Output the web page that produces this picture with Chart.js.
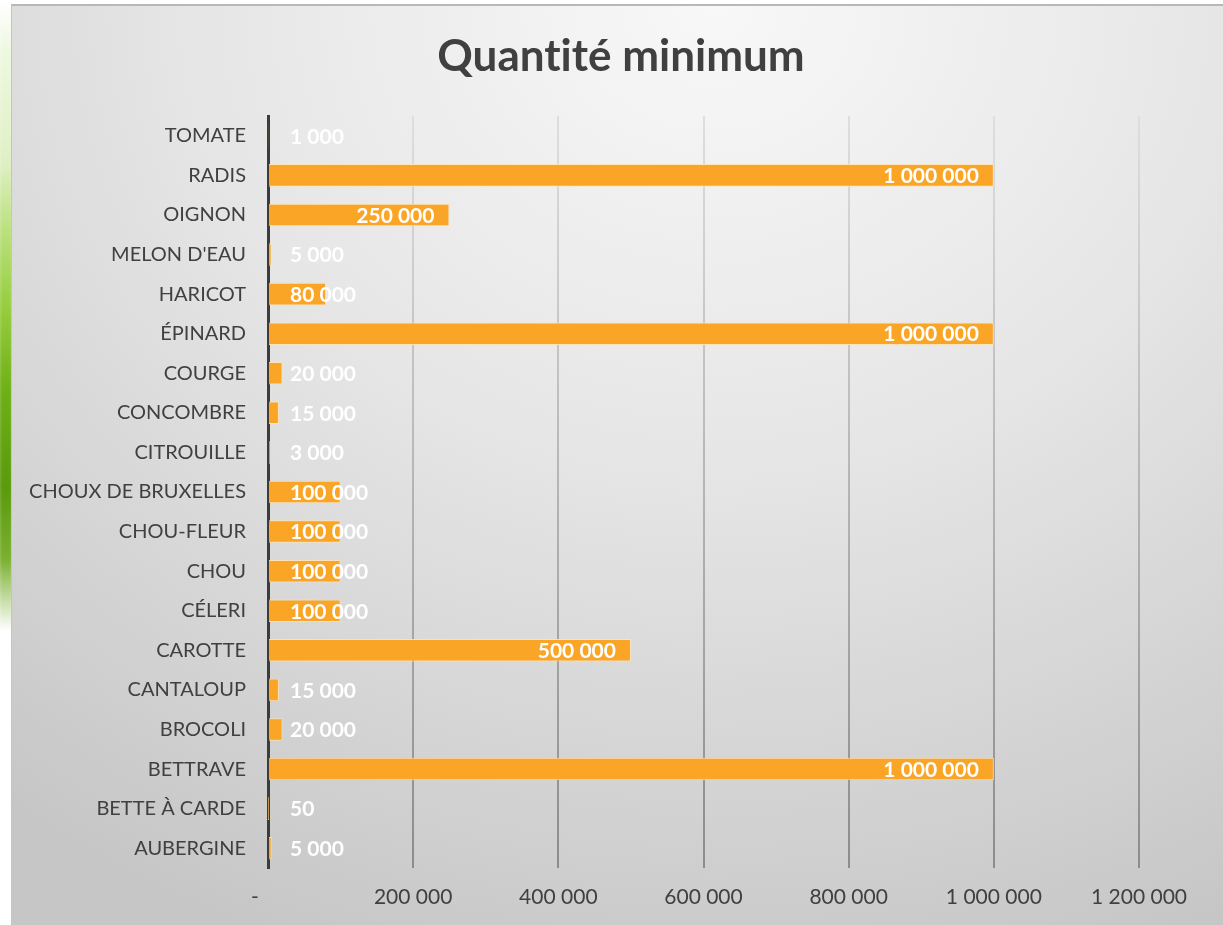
<!DOCTYPE html>
<html>
<head>
<meta charset="utf-8">
<script src="https://cdn.jsdelivr.net/npm/chart.js@4"></script>
<style>
  html, body { margin: 0; padding: 0; width: 1223px; height: 925px; overflow: hidden; background: #fff; }
  #leaf {
    position: absolute; left: -2px; top: 0px; width: 16px; height: 650px;
    background: linear-gradient(to bottom, #ffffff 0%, #eef8e0 8%, #dff0c4 25%, #b9e07a 36%, #94cc3c 48%, #6fb018 60%, #5a9a0c 75%, #7ab030 86%, #ffffff 97%);
    filter: blur(2px);
  }
  #frame {
    position: absolute; left: 11px; top: 4px; width: 1212px; height: 921px; box-sizing: border-box;
    border-top: 2px solid #b8b8b8; border-left: 1px solid #c4c4c4;
    background: radial-gradient(ellipse 95% 110% at 58% 0%, #f8f8f8 0%, #e6e6e6 45%, #cfcfcf 85%, #c6c6c6 100%);
  }
  #wrap { position: absolute; left: 0; top: 0; width: 1223px; height: 925px; }
</style>
</head>
<body>
<div id="leaf"></div>
<div id="frame"></div>
<div id="wrap"><canvas id="myChart"></canvas></div>
<script>
  // categories, top to bottom as in the picture
  const categories = ['TOMATE', 'RADIS', 'OIGNON', "MELON D'EAU", 'HARICOT', 'ÉPINARD', 'COURGE', 'CONCOMBRE',
    'CITROUILLE', 'CHOUX DE BRUXELLES', 'CHOU-FLEUR', 'CHOU', 'CÉLERI', 'CAROTTE', 'CANTALOUP', 'BROCOLI',
    'BETTRAVE', 'BETTE À CARDE', 'AUBERGINE'];
  const quantites = [1000, 1000000, 250000, 5000, 80000, 1000000, 20000, 15000,
    3000, 100000, 100000, 100000, 100000, 500000, 15000, 20000,
    1000000, 50, 5000];
  const xTicks = [0, 200000, 400000, 600000, 800000, 1000000, 1200000];
  const chartTitle = 'Quant\u200Cit\u200Cé minimum'; // ZWNJ keeps Lato from joining "ti"

  const fontName = 'Lato, "Open Sans", sans-serif';
  const textColor = '#404040';

  function formatNum(v) {
    return String(v).replace(/\B(?=(\d{3})+(?!\d))/g, ' ');
  }

  // title centred on the whole frame, not on the plot
  const frameTitle = {
    id: 'frameTitle',
    afterDraw(chart) {
      const ctx = chart.ctx;
      ctx.save();
      ctx.font = 'bold 44px ' + fontName;
      ctx.fillStyle = textColor;
      ctx.textAlign = 'center';
      ctx.textBaseline = 'middle';
      ctx.fillText(chartTitle, 621, 57);
      ctx.restore();
    }
  };

  // white labels: at the inside end when there is room, otherwise just after the base
  const barLabels = {
    id: 'barLabels',
    afterDatasetsDraw(chart) {
      const ctx = chart.ctx;
      const meta = chart.getDatasetMeta(0);
      ctx.save();
      ctx.font = 'bold 21px ' + fontName;
      ctx.fillStyle = '#ffffff';
      ctx.textBaseline = 'middle';
      ctx.textAlign = 'left';
      meta.data.forEach((bar, i) => {
        const txt = formatNum(quantites[i]);
        const w = ctx.measureText(txt).width;
        const base = chart.chartArea.left;
        let x = bar.x - 15 - w;
        if (x < base + 22) x = base + 22;
        ctx.fillText(txt, x, bar.y + 1);
      });
      ctx.restore();
    }
  };

  const ctx = document.getElementById('myChart').getContext('2d');
  const myChart = new Chart(ctx, {
    type: 'bar',
    data: {
      labels: categories,
      datasets: [{
        label: 'Quantité minimum',
        data: quantites,
        backgroundColor: '#fba526',
        borderColor: 'rgba(255, 226, 180, 0.9)',
        borderWidth: 1,
        borderSkipped: 'start',
        barPercentage: 0.57,
        categoryPercentage: 1
      }]
    },
    options: {
      indexAxis: 'y',
      responsive: true,
      maintainAspectRatio: false,
      animation: false,
      layout: { padding: { left: 0, right: 84, top: 116, bottom: 0 } },
      plugins: {
        legend: { display: false },
        tooltip: { enabled: false },
        title: { display: false }
      },
      scales: {
        x: {
          min: 0,
          max: 1200000,
          afterBuildTicks: (scale) => { scale.ticks = xTicks.map(v => ({ value: v })); },
          afterFit: (scale) => { scale.height = 57; },
          border: { display: false },
          grid: {
            drawTicks: false,
            lineWidth: 2,
            color: (c) => {
              const area = c.chart.chartArea;
              if (!area) return '#b0b0b0';
              const g = c.chart.ctx.createLinearGradient(0, area.top, 0, area.bottom);
              g.addColorStop(0, '#dedede');
              g.addColorStop(0.5, '#b4b4b4');
              g.addColorStop(1, '#8c8c8c');
              return g;
            }
          },
          ticks: {
            color: textColor,
            padding: 17,
            font: { family: fontName, size: 21 },
            callback: (v) => v === 0 ? '-\u2003\u2002' : formatNum(v)
          }
        },
        y: {
          afterFit: (scale) => { scale.width = 268; },
          border: { display: true, color: '#3c3c3c', width: 3 },
          grid: { display: false, drawTicks: false },
          ticks: {
            color: textColor,
            padding: 22,
            font: { family: fontName, size: 20 }
          }
        }
      }
    },
    plugins: [barLabels, frameTitle]
  });
</script>
</body>
</html>
